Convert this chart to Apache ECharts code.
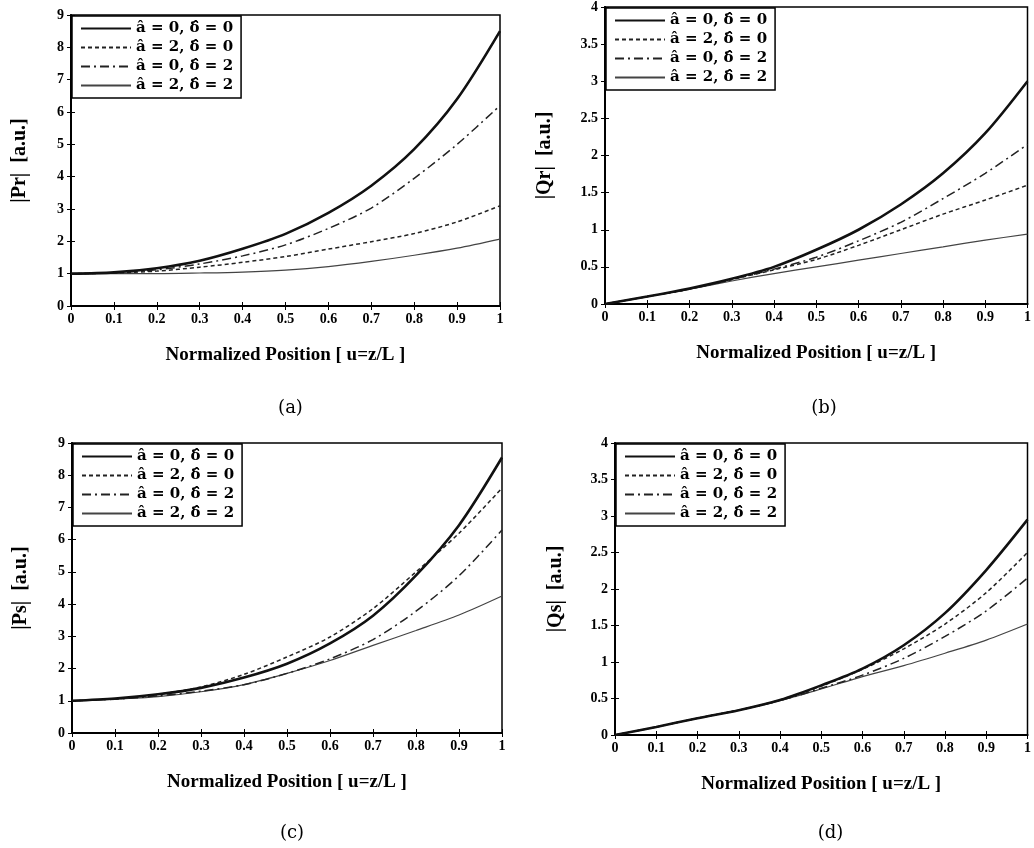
<!DOCTYPE html>
<html>
<head>
<meta charset="utf-8">
<script src="https://cdn.jsdelivr.net/npm/echarts@6/dist/echarts.min.js"></script>
<style>
  html, body { margin: 0; padding: 0; background: #fff; }
  #chart { width: 1034px; height: 848px; }
</style>
</head>
<body>
<div id="chart"></div>
<script>
// positions along the fibre
var u = [0, 0.1, 0.2, 0.3, 0.4, 0.5, 0.6, 0.7, 0.8, 0.9, 1];

var names = ['a\u0302 = 0, \u03b4\u0302 = 0', 'a\u0302 = 2, \u03b4\u0302 = 0',
             'a\u0302 = 0, \u03b4\u0302 = 2', 'a\u0302 = 2, \u03b4\u0302 = 2'];

// (a) |Pr|
var pr00 = [1, 1.04, 1.17, 1.4, 1.77, 2.23, 2.88, 3.72, 4.85, 6.4, 8.5];
var pr20 = [1, 1.02, 1.08, 1.2, 1.35, 1.53, 1.76, 1.99, 2.24, 2.6, 3.1];
var pr02 = [1, 1.03, 1.12, 1.3, 1.55, 1.89, 2.4, 3.03, 3.95, 5.0, 6.2];
var pr22 = [1, 1.0, 1.0, 1.02, 1.05, 1.11, 1.22, 1.38, 1.57, 1.79, 2.07];

// (b) |Qr|
var qr00 = [0, 0.1, 0.21, 0.34, 0.5, 0.73, 1.0, 1.34, 1.76, 2.3, 3.0];
var qr20 = [0, 0.1, 0.2, 0.33, 0.46, 0.6, 0.79, 1.0, 1.21, 1.4, 1.6];
var qr02 = [0, 0.1, 0.2, 0.33, 0.47, 0.63, 0.85, 1.1, 1.42, 1.76, 2.15];
var qr22 = [0, 0.1, 0.2, 0.31, 0.41, 0.5, 0.59, 0.68, 0.77, 0.86, 0.94];

// (c) |Ps|
var ps00 = [1, 1.07, 1.2, 1.4, 1.72, 2.15, 2.78, 3.64, 4.89, 6.45, 8.55];
var ps20 = [1, 1.06, 1.2, 1.43, 1.82, 2.36, 2.98, 3.86, 5.0, 6.2, 7.6];
var ps02 = [1, 1.05, 1.15, 1.3, 1.5, 1.85, 2.3, 2.9, 3.78, 4.88, 6.3];
var ps22 = [1, 1.05, 1.13, 1.28, 1.5, 1.85, 2.25, 2.72, 3.18, 3.66, 4.25];

// (d) |Qs|
var qs00 = [0, 0.11, 0.23, 0.34, 0.48, 0.68, 0.91, 1.23, 1.67, 2.26, 2.95];
var qs20 = [0, 0.11, 0.23, 0.34, 0.48, 0.67, 0.9, 1.18, 1.52, 1.95, 2.5];
var qs02 = [0, 0.11, 0.23, 0.34, 0.47, 0.64, 0.82, 1.05, 1.35, 1.7, 2.15];
var qs22 = [0, 0.11, 0.23, 0.34, 0.47, 0.63, 0.8, 0.95, 1.12, 1.3, 1.52];

var panels = [
    { ytitle: '|Pr|  [a.u.]', ymax: 9, yint: 1, sets: [pr00, pr20, pr02, pr22], cap: '(a)',
      grid: { left: 71, top: 15, width: 429, height: 291 }, gap: 41 },
    { ytitle: '|Qr|  [a.u.]', ymax: 4, yint: 0.5, sets: [qr00, qr20, qr02, qr22], cap: '(b)',
      grid: { left: 605, top: 7, width: 428, height: 297 }, gap: 50 },
    { ytitle: '|Ps|  [a.u.]', ymax: 9, yint: 1, sets: [ps00, ps20, ps02, ps22], cap: '(c)',
      grid: { left: 72, top: 443, width: 430, height: 290 }, gap: 41 },
    { ytitle: '|Qs|  [a.u.]', ymax: 4, yint: 0.5, sets: [qs00, qs20, qs02, qs22], cap: '(d)',
      grid: { left: 615, top: 443, width: 421, height: 292 }, gap: 49 }
];

// line looks: thick solid, dashed, dash-dot, thin solid
var looks = [
    { width: 2.6, type: 'solid', color: '#111' },
    { width: 1.5, type: [4, 3], color: '#222' },
    { width: 1.5, type: [9, 4, 2, 4], color: '#222' },
    { width: 1.2, type: 'solid', color: '#444' }
];

var font = 'Liberation Serif';
var option = { animation: false, grid: [], xAxis: [], yAxis: [], series: [], legend: [], title: [] };

panels.forEach(function (p, i) {
    var g = p.grid;
    option.grid.push({ left: g.left, top: g.top, width: g.width, height: g.height,
        show: true, borderColor: '#000', borderWidth: 1.5, containLabel: false });

    var tickStyle = { show: true, inside: true, length: 4, lineStyle: { color: '#000', width: 1 } };
    option.xAxis.push({
        type: 'value', gridIndex: i, min: 0, max: 1, interval: 0.1,
        name: 'Normalized Position [ u=z/L ]', nameLocation: 'middle', nameGap: 40,
        nameTextStyle: { fontFamily: font, fontWeight: 'bold', fontSize: 19, color: '#000' },
        axisLine: { lineStyle: { color: '#000', width: 2 } },
        axisTick: tickStyle, splitLine: { show: false },
        axisLabel: { fontFamily: font, fontWeight: 'bold', fontSize: 14, color: '#000', margin: 6 }
    });
    option.xAxis.push({
        type: 'value', gridIndex: i, min: 0, max: 1, interval: 0.1, position: 'top',
        axisLine: { lineStyle: { color: '#000', width: 1.5 } },
        axisTick: tickStyle, axisLabel: { show: false }, splitLine: { show: false }
    });
    option.yAxis.push({
        type: 'value', gridIndex: i, min: 0, max: p.ymax, interval: p.yint,
        name: p.ytitle, nameLocation: 'middle', nameGap: p.gap, nameRotate: 90,
        nameTextStyle: { fontFamily: font, fontWeight: 'bold', fontSize: 20, color: '#000' },
        axisLine: { lineStyle: { color: '#000', width: 2 } },
        axisTick: tickStyle, splitLine: { show: false },
        axisLabel: { fontFamily: font, fontWeight: 'bold', fontSize: 14, color: '#000', margin: 7 }
    });
    option.yAxis.push({
        type: 'value', gridIndex: i, min: 0, max: p.ymax, interval: p.yint, position: 'right',
        axisLine: { lineStyle: { color: '#000', width: 1.5 } },
        axisTick: tickStyle, axisLabel: { show: false }, splitLine: { show: false }
    });

    p.sets.forEach(function (vals, k) {
        option.series.push({
            name: names[k], type: 'line', xAxisIndex: i * 2, yAxisIndex: i * 2,
            smooth: 0.3, symbol: 'none', showSymbol: false,
            lineStyle: looks[k], itemStyle: { color: looks[k].color },
            data: u.map(function (x, j) { return [x, vals[j]]; }),
            z: 4 - k
        });
    });

    option.legend.push({
        data: names, orient: 'vertical', left: g.left + 1, top: g.top + 1,
        itemWidth: 50, itemHeight: 10, itemGap: 4,
        itemStyle: { opacity: 0 },
        padding: [5, 8, 5, 8], backgroundColor: '#fff',
        borderColor: '#000', borderWidth: 1.5, borderRadius: 0,
        textStyle: { fontFamily: 'DejaVu Serif', fontWeight: 'bold', fontSize: 15, color: '#000' },
        selectedMode: false, z: 10
    });

    option.title.push({
        text: p.cap, left: g.left + g.width / 2, top: i < 2 ? 394 : 819, textAlign: 'center',
        textStyle: { fontFamily: 'DejaVu Serif', fontWeight: 'normal', fontSize: 18, color: '#000' }
    });
});

var myChart = echarts.init(document.getElementById('chart'));
myChart.setOption(option);
</script>
</body>
</html>
